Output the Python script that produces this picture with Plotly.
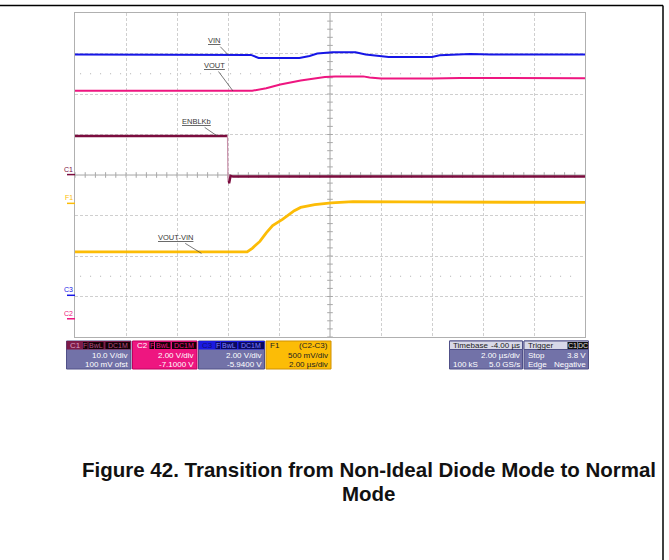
import numpy as np
import plotly.graph_objects as go

# ---------------- data ----------------
# time in microseconds (trigger at 0), values in volts
t_enblkb = [-6.0, -0.02, 0.0, 0.05, 0.10, 0.20, 14.0]
v_enblkb = [9.55, 9.55, -1.9, -1.9, -0.3, -0.5, -0.5]

t_vin = [-6.0, 0.9, 1.2, 2.8, 3.2, 3.5, 4.1, 5.0, 5.4, 6.3, 8.0, 8.3, 9.5, 10.3, 14.0]
v_vin = [11.89, 11.87, 11.72, 11.72, 11.82, 11.94, 12.00, 12.00, 11.89, 11.77, 11.77, 11.85, 11.92, 11.89, 11.89]

t_vout = [-6.0, 0.95, 1.5, 2.05, 2.85, 3.4, 3.8, 4.2, 5.3, 5.55, 6.0, 8.0, 9.1, 14.0]
v_vout = [11.26, 11.26, 11.38, 11.57, 11.77, 11.87, 11.94, 11.97, 11.97, 11.92, 11.86, 11.86, 11.89, 11.88]

t_diff = [-6.0, 0.75, 0.95, 1.25, 1.5, 1.75, 2.15, 2.6, 2.85, 3.4, 4.05, 4.9, 6.9, 14.0]
v_diff = [-0.60, -0.60, -0.555, -0.47, -0.365, -0.275, -0.195, -0.09, -0.05, -0.017, 0.005, 0.022, 0.017, 0.011]

# channel settings (V/div, offset V)
C1_VDIV, C1_OFS = 10.0, 0.1
C2_VDIV, C2_OFS = 2.0, -7.1
C3_VDIV, C3_OFS = 2.0, -5.94
F1_VDIV, F1_OFS = 0.5, -0.35
TIME_DIV = 2.0
TIME_CENTER = 4.0
TRIG_TIME = 0.0
TRIG_LEVEL = 3.8

trace_labels = ["VIN", "VOUT", "ENBLKb", "VOUT-VIN"]
caption_lines = ["Figure 42. Transition from Non-Ideal Diode Mode to Normal", "Mode"]

desc_c1 = ["C1", "10.0 V/div", "100 mV ofst"]
desc_c2 = ["C2", "2.00 V/div", "-7.1000 V"]
desc_c3 = ["C3", "2.00 V/div", "-5.9400 V"]
desc_f1 = ["F1", "(C2-C3)", "500 mV/div", "2.00 µs/div"]
desc_tb = ["Timebase", "-4.00 µs", "2.00 µs/div", "100 kS", "5.0 GS/s"]
desc_tr = ["Trigger", "Stop", "3.8 V", "Edge", "Negative"]
badges = ["F", "BwL", "DC1M"]

# ---------------- styling ----------------
C1_COL = "#7b0c3e"
C2_COL = "#ee1680"
C3_COL = "#1616e6"
F1_COL = "#fcbc06"
BODY = "#7272a8"
FONT = "Liberation Sans, Arial, sans-serif"

W_FIG, H_FIG = 669, 560
L, R, T, B = 75, 84, 13, 223
PW, PH = W_FIG - L - R, H_FIG - T - B


def px(x):
    return (x - L) / PW


def py(y):
    return 1 - (y - T) / PH


def to_div(v, vdiv, ofs):
    return (np.asarray(v, dtype=float) + ofs) / vdiv


fig = go.Figure()

# graticule centre ticks
ytk = np.arange(-4, 4.001, 0.2)
xtk = np.arange(TIME_CENTER - 5 * TIME_DIV, TIME_CENTER + 5 * TIME_DIV + 0.001, TIME_DIV / 5)
fig.add_trace(go.Scatter(x=[TIME_CENTER] * len(ytk), y=ytk, mode="markers",
                         marker=dict(symbol="line-ew", size=4, line=dict(color="#a8a8a8", width=1)),
                         hoverinfo="skip", showlegend=False))
fig.add_trace(go.Scatter(x=xtk, y=[0] * len(xtk), mode="markers",
                         marker=dict(symbol="line-ns", size=4, line=dict(color="#a8a8a8", width=1)),
                         hoverinfo="skip", showlegend=False))

# ENBLKb (C1) split at the edge
y1 = to_div(v_enblkb, C1_VDIV, C1_OFS)
fig.add_trace(go.Scatter(x=t_enblkb[:2], y=y1[:2], mode="lines",
                         line=dict(color=C1_COL, width=2.5), showlegend=False))
fig.add_trace(go.Scatter(x=t_enblkb[1:3], y=y1[1:3], mode="lines",
                         line=dict(color="#c890aa", width=1.2), showlegend=False))
fig.add_trace(go.Scatter(x=t_enblkb[2:], y=y1[2:], mode="lines",
                         line=dict(color=C1_COL, width=2.5), showlegend=False))
# VOUT (C2)
fig.add_trace(go.Scatter(x=t_vout, y=to_div(v_vout, C2_VDIV, C2_OFS), mode="lines",
                         line=dict(color=C2_COL, width=2), showlegend=False))
# VIN (C3)
fig.add_trace(go.Scatter(x=t_vin, y=to_div(v_vin, C3_VDIV, C3_OFS), mode="lines",
                         line=dict(color=C3_COL, width=2), showlegend=False))
# VOUT-VIN (F1)
fig.add_trace(go.Scatter(x=t_diff, y=to_div(v_diff, F1_VDIV, F1_OFS), mode="lines",
                         line=dict(color=F1_COL, width=2.8), showlegend=False))

# trigger markers
x_lo, x_hi = TIME_CENTER - 5 * TIME_DIV, TIME_CENTER + 5 * TIME_DIV
fig.add_trace(go.Scatter(x=[TRIG_TIME, x_hi + 0.2], y=[-4.12, (TRIG_LEVEL + C1_OFS) / C1_VDIV],
                         mode="markers", cliponaxis=False,
                         marker=dict(symbol=["triangle-up", "triangle-left"], size=6, color=C1_COL),
                         hoverinfo="skip", showlegend=False))

shapes = []
ann = []

# centre lines and dotted reference lines
shapes.append(dict(type="line", xref="x", yref="paper", x0=TIME_CENTER, x1=TIME_CENTER, y0=0, y1=1,
                   line=dict(color="#a8a8a8", width=1), layer="below"))
shapes.append(dict(type="line", xref="paper", yref="y", x0=0, x1=1, y0=0, y1=0,
                   line=dict(color="#a8a8a8", width=1), layer="below"))
for yy in (2.5, -2.5):
    shapes.append(dict(type="line", xref="paper", yref="y", x0=0.01, x1=0.99, y0=yy, y1=yy,
                       line=dict(color="#b0b0b0", width=1, dash="1px,9px"), layer="below"))

# page border lines
shapes.append(dict(type="line", xref="paper", yref="paper", x0=px(0), x1=px(663), y0=py(5.5), y1=py(5.5),
                   line=dict(color="black", width=1.5)))
shapes.append(dict(type="line", xref="paper", yref="paper", x0=px(663), x1=px(663), y0=py(5.5), y1=py(560),
                   line=dict(color="black", width=1.5)))


def rect(x0, y0, x1, y1, fill, line=None):
    shapes.append(dict(type="rect", xref="paper", yref="paper", x0=px(x0), x1=px(x1), y0=py(y1), y1=py(y0),
                       fillcolor=fill, line=dict(color=line or fill, width=1 if line else 0), layer="above"))


def text(x, y, s, color, anchor="left", size=8):
    ann.append(dict(xref="paper", yref="paper", x=px(x), y=py(y), text=s, showarrow=False,
                    xanchor=anchor, yanchor="middle", font=dict(family=FONT, size=size, color=color)))


Y0, YH, Y1 = 341, 349.5, 369
R2, R3, RH = 355.3, 364.3, 345.4


def badge_row(spans, labels, bg, fg):
    for (a, b), lab in zip(spans, labels):
        rect(a, Y0 + 1, b, YH - 0.5, bg)
        text((a + b) / 2, RH, lab, fg, "center", 7)


# C1 box
rect(66.5, Y0, 131, Y1, BODY, "#505088")
rect(66.5, Y0, 131, YH, "#7d1a48")
text(68, RH, desc_c1[0], "#d8a0c0", "left", 8)
badge_row([(83, 87.5), (88.5, 103.5), (105.5, 130)], badges, "#150008", "#b0507e")
text(130, R2, desc_c1[1], "white", "right")
text(130, R3, desc_c1[2], "white", "right")
# C2 box
rect(132.5, Y0, 197, Y1, C2_COL, "#c00060")
text(134.5, RH, desc_c2[0], "white", "left", 8)
badge_row([(149.5, 154), (155, 170.5), (172, 196.5)], badges, "#150008", C2_COL)
text(196, R2, desc_c2[1], "white", "right")
text(196, R3, desc_c2[2], "white", "right")
# C3 box
rect(198.5, Y0, 264.5, Y1, BODY, "#505088")
rect(198.5, Y0, 264.5, YH, "#1a1ae0")
text(200, RH, desc_c3[0], "#101070", "left", 8)
badge_row([(215.5, 220), (221, 237), (238.5, 264)], badges, "#0a0a60", "#8080ff")
text(263.5, R2, desc_c3[1], "white", "right")
text(263.5, R3, desc_c3[2], "white", "right")
# F1 box
rect(266, Y0, 331, Y1, F1_COL, "#d09000")
text(268, RH, desc_f1[0], "#222222", "left", 8)
text(330, RH, desc_f1[1], "#222222", "right", 8)
text(330, R2, desc_f1[2], "#222222", "right")
text(330, R3, desc_f1[3], "#222222", "right")
# Timebase box
rect(449.5, Y0, 522.5, Y1, BODY, "#505088")
rect(449.5, Y0, 522.5, YH, "#d8d8e8", "#505088")
text(451, RH, desc_tb[0], "#222222", "left", 8)
text(521.5, RH, desc_tb[1], "#222222", "right", 8)
text(521.5, R2, desc_tb[2], "white", "right")
text(451, R3, desc_tb[3], "white", "left")
text(521.5, R3, desc_tb[4], "white", "right")
# Trigger box
rect(524, Y0, 588.5, Y1, BODY, "#505088")
rect(524, Y0, 588.5, YH, "#d8d8e8", "#505088")
text(525.5, RH, desc_tr[0], "#222222", "left", 8)
badge_row([(567.5, 577.5), (578, 588)], ["C1", "DC"], "#101010", "#e0e0e0")
text(525.5, R2, desc_tr[1], "white", "left")
text(587.5, R2, desc_tr[2], "white", "right")
text(525.5, R3, desc_tr[3], "white", "left")
text(587.5, R3, desc_tr[4], "white", "right")

# channel ground markers on the left
for lab, col, lvl in [("C1", C1_COL, C1_OFS / C1_VDIV), ("F1", F1_COL, F1_OFS / F1_VDIV),
                      ("C3", C3_COL, C3_OFS / C3_VDIV), ("C2", C2_COL, C2_OFS / C2_VDIV)]:
    ann.append(dict(xref="paper", yref="y", x=px(74.5), y=lvl, text=lab, showarrow=False,
                    xanchor="right", yanchor="bottom", yshift=0,
                    font=dict(family=FONT, size=7, color=col)))
    shapes.append(dict(type="line", xref="paper", yref="y", x0=px(67), x1=px(75), y0=lvl, y1=lvl,
                       line=dict(color=col, width=1.5)))

# trace labels with leader lines
for lab, (xe, ye, ax, ay) in zip(trace_labels, [(228.5, 55.2, -14, -14.5), (233, 91, -19, -25.5),
                                               (217, 135.9, -21, -14.5), (201.5, 253.4, -26, -16)]):
    ann.append(dict(xref="paper", yref="paper", x=px(xe), y=py(ye), ax=ax, ay=ay,
                    text="<u>" + lab + "</u>", showarrow=True, arrowhead=0, arrowwidth=0.7,
                    arrowcolor="#404040", standoff=0, startstandoff=0,
                    font=dict(family=FONT, size=7.5, color="#383838")))

# caption
text(369, 469, "<b>" + caption_lines[0] + "</b>", "#111111", "center", 20.5)
text(369, 493, "<b>" + caption_lines[1] + "</b>", "#111111", "center", 20.5)

fig.update_layout(
    width=W_FIG, height=H_FIG, autosize=False,
    margin=dict(l=L, r=R, t=T, b=B, pad=0),
    paper_bgcolor="white", plot_bgcolor="white",
    shapes=shapes, annotations=ann, showlegend=False,
    xaxis=dict(range=[x_lo, x_hi], tick0=x_lo, dtick=TIME_DIV, showticklabels=False, ticks="",
               showgrid=True, gridcolor="#cfcfcf", griddash="3px,2px", gridwidth=1, zeroline=False,
               showline=True, mirror=True, linecolor="#b0b0b0", linewidth=1, fixedrange=True),
    yaxis=dict(range=[-4, 4], tick0=-4, dtick=1, showticklabels=False, ticks="",
               showgrid=True, gridcolor="#cfcfcf", griddash="3px,2px", gridwidth=1, zeroline=False,
               showline=True, mirror=True, linecolor="#b0b0b0", linewidth=1, fixedrange=True),
)

fig.write_html("out.html", config={"displayModeBar": False},
               post_script="document.body.style.margin='0';document.body.style.overflow='hidden';")
